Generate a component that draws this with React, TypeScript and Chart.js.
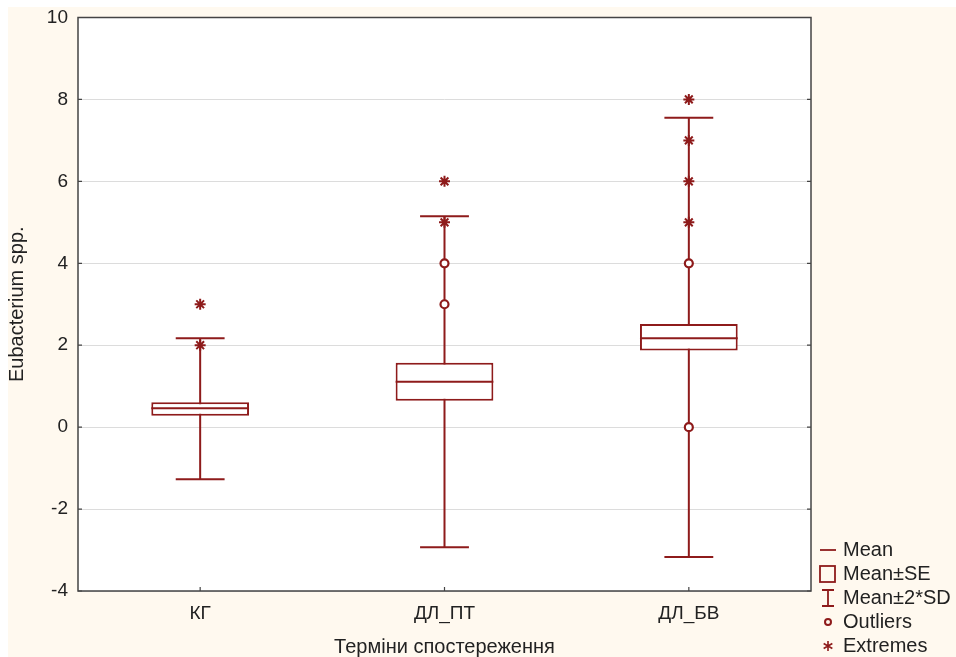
import React, { useEffect, useRef } from 'react';
import { Chart, registerables } from 'chart.js';

Chart.register(...registerables);

const categories = ['КГ', 'ДЛ_ПТ', 'ДЛ_БВ'];
const means = [0.46, 1.11, 2.17];
const seLow = [0.28, 0.645, 1.87];
const seHigh = [0.61, 1.57, 2.52];
const sdLow = [-1.27, -2.93, -3.17];
const sdHigh = [2.17, 5.15, 7.55];
const outlierCats = ['ДЛ_ПТ', 'ДЛ_ПТ', 'ДЛ_БВ', 'ДЛ_БВ'];
const outlierVals = [4, 3, 4, 0];
const extremeCats = ['КГ', 'КГ', 'ДЛ_ПТ', 'ДЛ_ПТ', 'ДЛ_БВ', 'ДЛ_БВ', 'ДЛ_БВ', 'ДЛ_БВ'];
const extremeVals = [3, 2, 6, 5, 8, 7, 6, 5];
const yMin = -4;
const yMax = 10;
const yStep = 2;
const legendLabels = ['Mean', 'Mean±SE', 'Mean±2*SD', 'Outliers', 'Extremes'];
const xTitle = 'Терміни спостереження';
const yTitle = 'Eubacterium spp.';

const RED = '#8E1B1B';
const TEXT = '#222222';
const FONT = "'Liberation Sans', Arial, sans-serif";

const boxPlugin = {
  id: 'boxplotExtras',
  beforeDraw(chart: any) {
    const { ctx, chartArea: a, width, height } = chart;
    ctx.save();
    ctx.fillStyle = '#FFF9EF';
    ctx.fillRect(0, 0, width, height);
    ctx.fillStyle = '#FFFFFF';
    ctx.fillRect(a.left, a.top, a.right - a.left, a.bottom - a.top);
    ctx.restore();
  },
  beforeDatasetsDraw(chart: any) {
    const { ctx } = chart;
    const x = chart.scales.x;
    const y = chart.scales.y;
    const meta = chart.getDatasetMeta(0);
    ctx.save();
    ctx.strokeStyle = RED;
    ctx.lineWidth = 2;
    categories.forEach((c, i) => {
      const bar: any = meta.data[i];
      const cx = x.getPixelForValue(i);
      const half = bar.width * 0.25;
      const yt = y.getPixelForValue(sdHigh[i]);
      const yb = y.getPixelForValue(sdLow[i]);
      ctx.beginPath();
      ctx.moveTo(cx, yt);
      ctx.lineTo(cx, yb);
      ctx.moveTo(cx - half, yt);
      ctx.lineTo(cx + half, yt);
      ctx.moveTo(cx - half, yb);
      ctx.lineTo(cx + half, yb);
      ctx.stroke();
    });
    ctx.restore();
  },
  afterDatasetsDraw(chart: any) {
    const { ctx, chartArea: a } = chart;
    const x = chart.scales.x;
    const y = chart.scales.y;
    const meta = chart.getDatasetMeta(0);
    ctx.save();
    ctx.strokeStyle = RED;
    ctx.lineWidth = 2;
    categories.forEach((c, i) => {
      const bar: any = meta.data[i];
      const cx = x.getPixelForValue(i);
      const ym = y.getPixelForValue(means[i]);
      ctx.beginPath();
      ctx.moveTo(cx - bar.width / 2, ym);
      ctx.lineTo(cx + bar.width / 2, ym);
      ctx.stroke();
    });
    ctx.strokeStyle = '#444444';
    ctx.lineWidth = 1.5;
    ctx.strokeRect(a.left, a.top, a.right - a.left, a.bottom - a.top);
    ctx.lineWidth = 1.2;
    y.ticks.forEach((t: any) => {
      const py = y.getPixelForValue(t.value);
      ctx.beginPath();
      ctx.moveTo(a.left, py);
      ctx.lineTo(a.left + 4, py);
      ctx.moveTo(a.right, py);
      ctx.lineTo(a.right - 4, py);
      ctx.stroke();
    });
    categories.forEach((c, i) => {
      const px = x.getPixelForValue(i);
      ctx.beginPath();
      ctx.moveTo(px, a.bottom);
      ctx.lineTo(px, a.bottom - 4);
      ctx.stroke();
    });
    const lx = a.right + 9;
    const tx = a.right + 32;
    const ly0 = a.bottom - 41;
    const gap = 24;
    ctx.font = `20px ${FONT}`;
    ctx.textBaseline = 'middle';
    ctx.textAlign = 'left';
    legendLabels.forEach((label, i) => {
      const ly = ly0 + i * gap;
      ctx.strokeStyle = RED;
      ctx.lineWidth = 1.8;
      const cx = lx + 8;
      if (i === 0) {
        ctx.beginPath();
        ctx.moveTo(lx, ly);
        ctx.lineTo(lx + 16, ly);
        ctx.stroke();
      } else if (i === 1) {
        ctx.strokeRect(lx, ly - 8, 15, 16);
      } else if (i === 2) {
        ctx.beginPath();
        ctx.moveTo(cx, ly - 8);
        ctx.lineTo(cx, ly + 8);
        ctx.moveTo(cx - 6, ly - 8);
        ctx.lineTo(cx + 6, ly - 8);
        ctx.moveTo(cx - 6, ly + 8);
        ctx.lineTo(cx + 6, ly + 8);
        ctx.stroke();
      } else if (i === 3) {
        ctx.lineWidth = 2;
        ctx.beginPath();
        ctx.arc(cx, ly, 3, 0, Math.PI * 2);
        ctx.stroke();
      } else {
        ctx.lineWidth = 1.6;
        const r = 5;
        ctx.beginPath();
        ctx.moveTo(cx, ly - r);
        ctx.lineTo(cx, ly + r);
        ctx.moveTo(cx - r * 0.87, ly - r * 0.5);
        ctx.lineTo(cx + r * 0.87, ly + r * 0.5);
        ctx.moveTo(cx - r * 0.87, ly + r * 0.5);
        ctx.lineTo(cx + r * 0.87, ly - r * 0.5);
        ctx.stroke();
      }
      ctx.fillStyle = TEXT;
      ctx.fillText(label, tx, ly);
    });
    ctx.restore();
  },
};

export default function App() {
  const ref = useRef<HTMLCanvasElement | null>(null);
  useEffect(() => {
    document.documentElement.style.overflow = 'hidden';
    const canvas = ref.current;
    if (!canvas) return;
    const chart = new Chart(canvas, {
      type: 'bar',
      data: {
        labels: categories,
        datasets: [
          {
            type: 'bar',
            label: 'Mean±SE',
            data: categories.map((c, i) => [seLow[i], seHigh[i]]) as any,
            backgroundColor: '#FFFFFF',
            borderColor: RED,
            borderWidth: 2,
            borderSkipped: false,
            barPercentage: 0.4,
            categoryPercentage: 1,
          } as any,
          {
            type: 'line',
            label: 'Outliers',
            data: outlierCats.map((c, i) => ({ x: c, y: outlierVals[i] })) as any,
            showLine: false,
            pointStyle: 'circle',
            pointRadius: 4,
            pointBorderWidth: 2.2,
            borderColor: RED,
            backgroundColor: '#FFFFFF',
          } as any,
          {
            type: 'line',
            label: 'Extremes',
            data: extremeCats.map((c, i) => ({ x: c, y: extremeVals[i] })) as any,
            showLine: false,
            pointStyle: 'star',
            pointRadius: 5.5,
            pointBorderWidth: 2,
            borderColor: RED,
            backgroundColor: RED,
          } as any,
        ],
      },
      options: {
        responsive: false,
        animation: false,
        layout: { padding: { left: 0, top: 10.5, right: 145, bottom: 0 } },
        plugins: {
          legend: { display: false },
          tooltip: { enabled: false },
        },
        scales: {
          x: {
            type: 'category',
            offset: true,
            grid: { display: false },
            border: { display: false },
            ticks: { font: { size: 19, family: FONT }, color: TEXT, padding: 3 },
            title: {
              display: true,
              text: xTitle,
              font: { size: 20, family: FONT, lineHeight: 1.0 },
              color: TEXT,
              padding: { top: 0, bottom: 0 },
            },
            afterFit: (s: any) => {
              s.height = 66;
              s.paddingLeft = 0;
              s.paddingRight = 0;
            },
          },
          y: {
            min: yMin,
            max: yMax,
            grid: { color: '#DCDCDC', drawTicks: false, lineWidth: 1 },
            border: { display: false },
            ticks: { stepSize: yStep, font: { size: 19, family: FONT }, color: TEXT, padding: 10 },
            title: {
              display: true,
              text: yTitle,
              font: { size: 20, family: FONT, lineHeight: 0.9 },
              color: TEXT,
              padding: { top: 0, bottom: 0 },
            },
            afterFit: (s: any) => {
              s.width = 70;
              s.paddingTop = 0;
              s.paddingBottom = 0;
            },
          },
        },
      } as any,
      plugins: [boxPlugin],
    });
    return () => chart.destroy();
  }, []);
  return (
    <canvas
      ref={ref}
      width={948}
      height={650}
      style={{ position: 'absolute', left: 8, top: 7, display: 'block', width: 948, height: 650 }}
    />
  );
}
